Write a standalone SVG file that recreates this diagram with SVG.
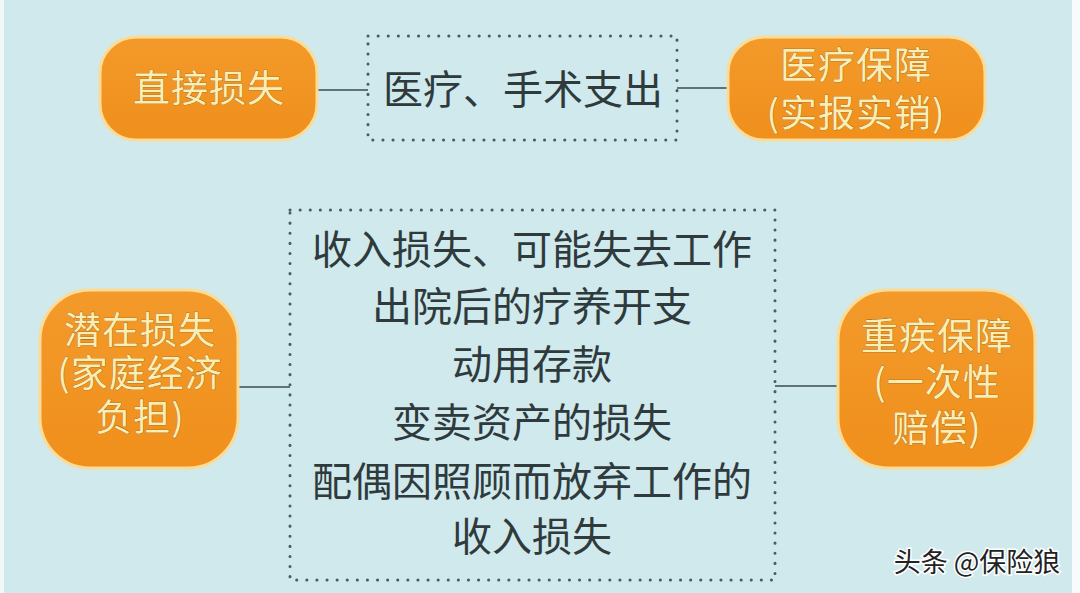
<svg xmlns="http://www.w3.org/2000/svg" width="1080" height="593" viewBox="0 0 1080 593">
<defs>
<linearGradient id="og" x1="0" y1="0" x2="0" y2="1">
<stop offset="0" stop-color="#f39a2a"/>
<stop offset="1" stop-color="#f08f1c"/>
</linearGradient>
<style>
.node{fill:url(#og);stroke:#fbdc97;stroke-width:3}
.nt{font-family:"Noto Sans CJK SC","Noto Sans CJK JP",sans-serif;fill:#fbeeb5;stroke:#8a5a20;stroke-width:0.6;paint-order:stroke;text-anchor:middle;font-size:37px;letter-spacing:1px}
.box{fill:none;stroke:#4d5a5e;stroke-width:3;stroke-dasharray:0.1 10;stroke-linecap:round}
.bt{font-family:"Noto Sans CJK SC","Noto Sans CJK JP",sans-serif;fill:#2f3a3c;text-anchor:middle;font-size:40px}
.con{stroke:#3d4a4e;stroke-width:1.6;fill:none}
</style>
</defs>
<rect x="0" y="0" width="1080" height="593" fill="#cfe9ec"/>
<rect x="0" y="0" width="4" height="593" fill="#f2f8f8"/>
<rect x="1072" y="0" width="8" height="593" fill="#f7fbfb"/>
<g id="connectors">
<line class="con" x1="317" y1="90" x2="368" y2="90"/>
<line class="con" x1="677" y1="88" x2="728" y2="88"/>
<line class="con" x1="238" y1="387" x2="290" y2="387"/>
<line class="con" x1="775" y1="386" x2="838" y2="386"/>
</g>
<g id="n-direct">
<rect class="node" x="100" y="37" width="217" height="103" rx="36"/>
<text class="nt" x="209" y="102">直接损失</text>
</g>
<g id="n-medical-cost">
<rect class="box" x="368" y="36" width="309" height="104"/>
<text class="bt" x="523" y="104">医疗、手术支出</text>
</g>
<g id="n-medical-ins">
<rect class="node" x="728" y="37" width="257" height="103" rx="36"/>
<text class="nt"><tspan x="856" y="79">医疗保障</tspan><tspan x="856" y="127">(实报实销)</tspan></text>
</g>
<g id="n-potential">
<rect class="node" x="40" y="290" width="198" height="178" rx="50"/>
<text class="nt"><tspan x="140" y="344">潜在损失</tspan><tspan x="140" y="387">(家庭经济</tspan><tspan x="140" y="431">负担)</tspan></text>
</g>
<g id="n-potential-items">
<rect class="box" x="290" y="210" width="485" height="370"/>
<text class="bt" x="532" y="264">收入损失、可能失去工作</text>
<text class="bt" x="532" y="321">出院后的疗养开支</text>
<text class="bt" x="532" y="379">动用存款</text>
<text class="bt" x="532" y="437">变卖资产的损失</text>
<text class="bt" x="532" y="496">配偶因照顾而放弃工作的</text>
<text class="bt" x="532" y="551">收入损失</text>
</g>
<g id="n-critical">
<rect class="node" x="838" y="290" width="197" height="178" rx="50"/>
<text class="nt"><tspan x="937" y="350">重疾保障</tspan><tspan x="937" y="396">(一次性</tspan><tspan x="937" y="442">赔偿)</tspan></text>
</g>
<text x="977" y="572" font-family="Noto Sans CJK SC,sans-serif" font-size="27" fill="#222" stroke="#fff" stroke-width="3" paint-order="stroke" text-anchor="middle">头条 @保险狼</text>
</svg>
